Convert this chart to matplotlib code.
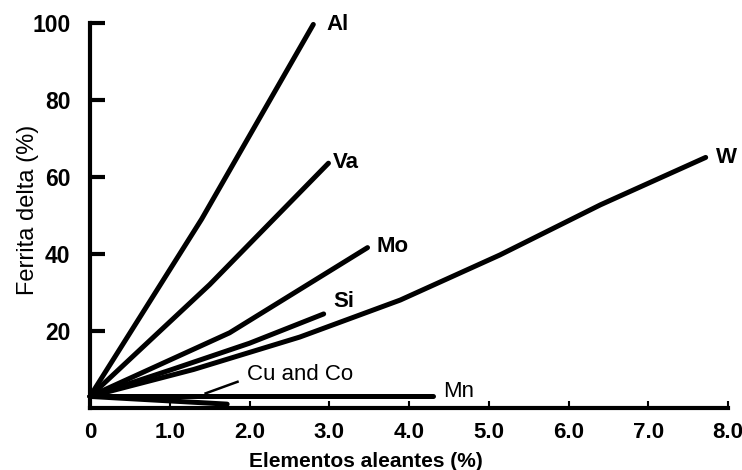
import matplotlib
matplotlib.use("Agg")
import matplotlib.pyplot as plt

plt.rcParams['font.family'] = ['Liberation Sans', 'DejaVu Sans']

# curves (alloy %, delta ferrite %)
al_x = [0, 1.4, 2.8]
al_y = [3, 49, 99.5]
va_x = [0, 1.5, 2.99]
va_y = [3, 32, 63.5]
mo_x = [0, 1.75, 3.48]
mo_y = [3, 19.5, 41.6]
si_x = [0, 1.0, 2.0, 2.93]
si_y = [3, 9.8, 16.8, 24.4]
w_x = [0, 1.3, 2.63, 3.89, 5.14, 6.4, 7.72]
w_y = [3, 10, 18.4, 28, 39.7, 52.7, 65]
cuco_x = [0, 1.72]
cuco_y = [3, 1.0]
mn_x = [0, 4.3]
mn_y = [3, 3]

xticks = [0, 1, 2, 3, 4, 5, 6, 7, 8]
xticklabels = ["0", "1.0", "2.0", "3.0", "4.0", "5.0", "6.0", "7.0", "8.0"]
yticks = [20, 40, 60, 80, 100]

fig = plt.figure(figsize=(7.42, 4.70), dpi=100)
ax = fig.add_axes([90 / 742, 62 / 470, 638 / 742, 385.5 / 470])

curves = [(al_x, al_y), (va_x, va_y), (mo_x, mo_y), (si_x, si_y),
          (w_x, w_y), (cuco_x, cuco_y), (mn_x, mn_y)]
for xs, ys in curves:
    ax.plot(xs, ys, color="black", lw=3.6, solid_capstyle="round",
            solid_joinstyle="round", clip_on=False)

# labels
lab = dict(fontsize=16, fontweight="bold", va="center", ha="left")
ax.text(2.97, 99.4, "Al", **lab)
ax.text(3.05, 63.6, "Va", **lab)
ax.text(3.59, 41.8, "Mo", **lab)
ax.text(3.05, 27.5, "Si", **lab)
ax.text(7.85, 65, "W", **lab)
ax.text(4.43, 4.2, "Mn", fontsize=16, va="center", ha="left")
ax.text(1.97, 8.6, "Cu and Co", fontsize=16, va="center", ha="left")
ax.plot([1.45, 1.85], [3.8, 6.8], color="black", lw=1.8)

ax.set_xlim(0, 8)
ax.set_ylim(0, 100)
ax.set_xticks(xticks)
ax.set_xticklabels(xticklabels)
ax.set_yticks(yticks)

ax.spines['top'].set_visible(False)
ax.spines['right'].set_visible(False)
ax.spines['left'].set_linewidth(3)
ax.spines['bottom'].set_linewidth(3)
ax.tick_params(axis='y', direction='in', length=11, width=3, labelsize=16.5, pad=14)
ax.tick_params(axis='x', direction='in', length=5, width=1.5, labelsize=16, pad=10)
for t in ax.get_xticklabels() + ax.get_yticklabels():
    t.set_fontweight("bold")

ax.set_xlabel("Elementos aleantes (%)", fontsize=15, fontweight="bold", va="center")
ax.set_ylabel("Ferrita delta (%)", fontsize=17, va="center")
ax.xaxis.set_label_coords(0.433, -0.14)
ax.yaxis.set_label_coords(-0.097, 0.514)

fig.savefig("out.png", dpi=100)
